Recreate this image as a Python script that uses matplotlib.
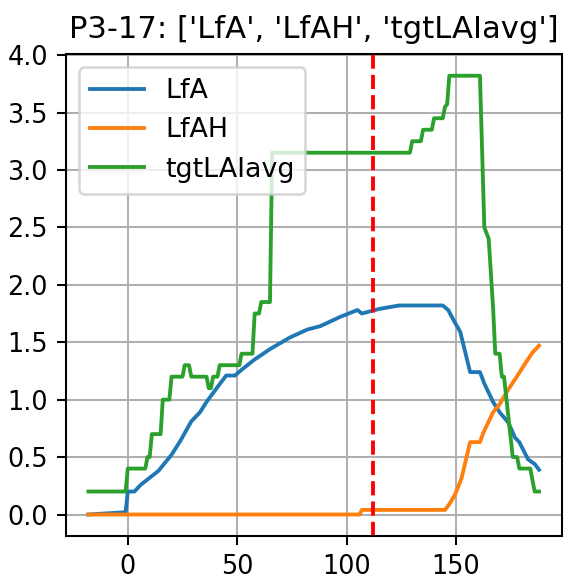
import matplotlib
matplotlib.use("Agg")
import matplotlib.pyplot as plt

title = "P3-17: ['LfA', 'LfAH', 'tgtLAIavg']"
series_names = ["LfA", "LfAH", "tgtLAIavg"]

lfa_x = [-18, -1, 0, 3, 6, 10, 14, 20, 24, 29, 33, 36, 41, 45, 49, 52, 58, 65, 74, 82,
         88, 97, 105, 107, 115, 124, 144, 146.5, 149, 152, 156.5, 161, 163, 167, 170,
         174, 177, 179, 183, 186, 188]
lfa_y = [0.0, 0.02, 0.2, 0.2, 0.26, 0.32, 0.38, 0.52, 0.64, 0.81, 0.89, 0.98, 1.11, 1.21,
         1.21, 1.26, 1.35, 1.44, 1.54, 1.61, 1.64, 1.72, 1.78, 1.75, 1.79, 1.82, 1.82,
         1.78, 1.69, 1.59, 1.24, 1.24, 1.14, 0.98, 0.89, 0.8, 0.67, 0.63, 0.48, 0.44, 0.39]

lfah_x = [-18, 106, 107, 145, 147, 149.5, 152.5, 156.5, 161, 162.5, 167, 170, 174, 177.5,
          181.5, 185, 188]
lfah_y = [0, 0, 0.04, 0.04, 0.09, 0.17, 0.31, 0.63, 0.63, 0.71, 0.89, 0.96, 1.09, 1.19,
          1.31, 1.41, 1.47]

tgt_x = [-18, -1, 0, 8, 9, 10, 11, 15, 16, 19, 20, 25, 26, 28, 29, 36, 37, 38, 39, 41, 42,
         51, 52, 57, 58, 60, 61, 65, 66, 129, 130, 134, 135, 139, 140, 144, 145, 146, 147,
         161, 163, 165, 167, 168, 170, 171, 172, 176, 178, 179, 184, 186, 188]
tgt_y = [0.2, 0.2, 0.4, 0.4, 0.5, 0.5, 0.7, 0.7, 1.0, 1.0, 1.2, 1.2, 1.3, 1.3, 1.2, 1.2,
         1.1, 1.1, 1.2, 1.2, 1.3, 1.3, 1.4, 1.4, 1.75, 1.75, 1.85, 1.85, 3.15, 3.15, 3.25,
         3.25, 3.35, 3.35, 3.45, 3.45, 3.55, 3.57, 3.82, 3.82, 2.5, 2.4, 1.8, 1.4, 1.4, 1.2,
         1.2, 0.5, 0.5, 0.4, 0.4, 0.2, 0.2]

marker_x = 112

DPI = 184
fig = plt.figure(figsize=(573 / DPI, 585 / DPI), dpi=DPI)
ax = fig.add_axes([0.115, 0.083, 0.865, 0.825])

ax.plot(lfa_x, lfa_y, label=series_names[0], color="#1f77b4", lw=1.5)
ax.plot(lfah_x, lfah_y, label=series_names[1], color="#ff7f0e", lw=1.5)
ax.plot(tgt_x, tgt_y, label=series_names[2], color="#2ca02c", lw=1.5)
ax.axvline(marker_x, color="red", linestyle="--", lw=1.5)

ax.grid(True)
ax.tick_params(labelsize=10)
ax.set_title(title, fontsize=12)
ax.legend(loc="upper left", fontsize=10.5)

fig.savefig("out.png", dpi=DPI)
